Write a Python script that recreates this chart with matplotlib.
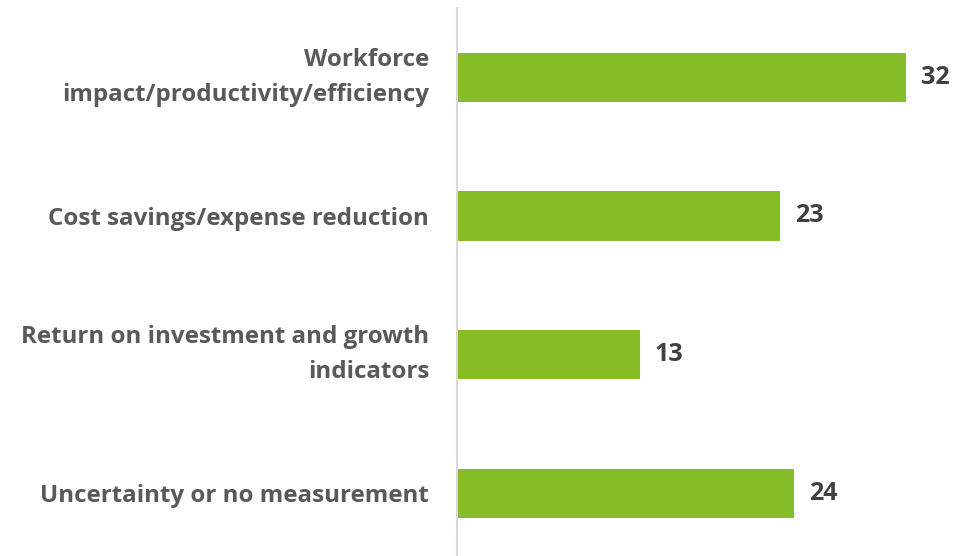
import matplotlib
matplotlib.use("Agg")
import matplotlib.pyplot as plt

# Data
categories = ["Workforce\nimpact/productivity/efficiency",
              "Cost savings/expense reduction",
              "Return on investment and growth\nindicators",
              "Uncertainty or no measurement"]
values = [32, 23, 13, 24]

plt.rcParams['font.family'] = ['Open Sans', 'DejaVu Sans']

fig = plt.figure(figsize=(9.54, 5.56), dpi=100)
ax = fig.add_axes([457/954, (556-562.5)/556, 1-457/954, 554.5/556])

ypos = list(range(len(values)))
ax.barh(ypos, values, height=0.355, color='#86BC25')
ax.set_ylim(3.5, -0.5)
ax.set_xlim(0, 35.4)

# value labels at the bar ends
for y, v in zip(ypos, values):
    ax.text(v + 1.05, y, str(v), va='center', ha='left', fontsize=18,
            fontweight='bold', color='#404040')

ax.set_yticks(ypos)
ax.set_yticklabels(categories, fontsize=17.4, fontweight='bold', color='#595959',
                   linespacing=1.6)
for lbl in ax.get_yticklabels():
    if "\n" in lbl.get_text():
        lbl.set_va('center')
ax.tick_params(axis='y', length=0, pad=20)
ax.set_xticks([])
for s in ['top', 'right', 'bottom']:
    ax.spines[s].set_visible(False)
ax.spines['left'].set_color('#d9d9d9')
ax.spines['left'].set_linewidth(1.5)

fig.savefig("out.png", dpi=100)
